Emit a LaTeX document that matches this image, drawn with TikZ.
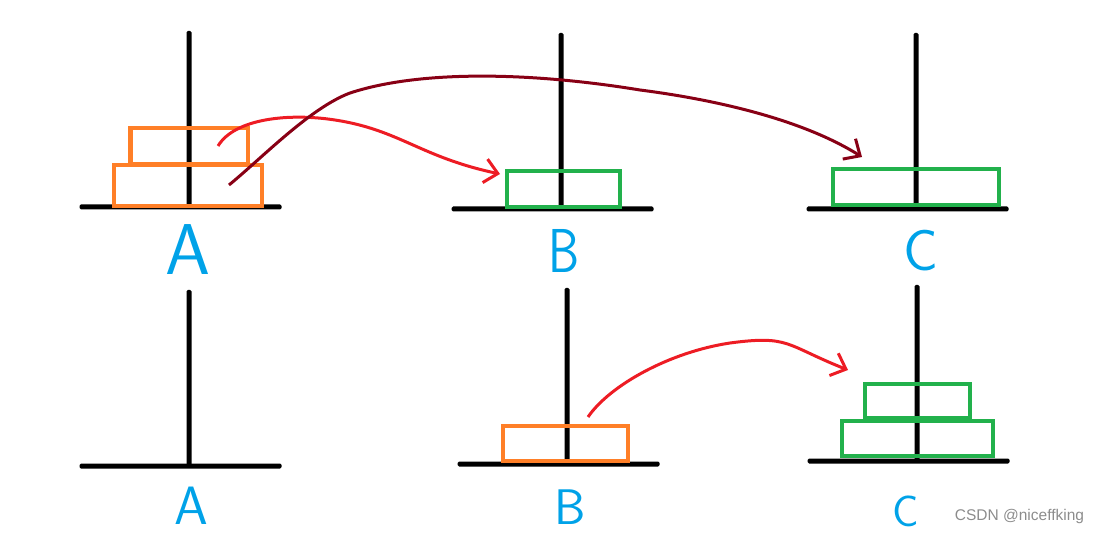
\documentclass[tikz,border=0pt]{standalone}
\usepackage{fontspec}
\setmainfont{Liberation Sans}
\usetikzlibrary{arrows.meta,positioning}
\definecolor{hanoiorange}{RGB}{255,127,39}
\definecolor{hanoigreen}{RGB}{34,177,76}
\definecolor{hanoired}{RGB}{237,28,36}
\definecolor{hanoidark}{RGB}{136,0,21}
\definecolor{hanoiblue}{RGB}{0,162,232}
\tikzstyle{base} = [rectangle, rounded corners=1.5pt, minimum width=202pt, minimum height=5pt, inner sep=0pt, fill=black]
\tikzstyle{peg} = [rectangle, rounded corners=1.5pt, minimum width=5pt, minimum height=176pt, inner sep=0pt, fill=black, anchor=south]
\tikzstyle{disc} = [rectangle, inner sep=0pt, line width=4.5pt]
\tikzstyle{oranged} = [disc, draw=hanoiorange]
\tikzstyle{greend} = [disc, draw=hanoigreen]
\tikzstyle{moved} = [line width=3pt, -{Straight Barb[length=13pt,width=24pt,line width=3pt]}]
\tikzstyle{letter} = [text=hanoiblue, inner sep=0pt]
\begin{document}
\begin{tikzpicture}[x=1pt, y=-1pt]
\useasboundingbox (0,0) rectangle (1099,534);
% top row
\node (baseA) [base] at (180.5,207) {};
\node (pegA) [peg] at (189,207) {};
\node (baseB) [base] at (552.5,209) {};
\node (pegB) [peg] at (561,209) {};
\node (baseC) [base] at (907.5,209) {};
\node (pegC) [peg] at (916,209) {};
\node (discAlarge) [oranged, minimum width=148pt, minimum height=41pt] at (188,185.5) {};
\node (discAsmall) [oranged, minimum width=117.5pt, minimum height=36pt] at (189.2,146) {};
\node (discB) [greend, minimum width=113pt, minimum height=36pt] at (563.5,189) {};
\node (discC) [greend, minimum width=166pt, minimum height=36pt] at (916,187) {};
\node (labelA) [letter, font=\sffamily\fontsize{72}{72}\selectfont] at (188,250) {A};
\node (labelB) [letter, font=\sffamily\fontsize{62}{62}\selectfont, xscale=0.8] at (564,251) {B};
\node (labelC) [letter, font=\sffamily\fontsize{58}{58}\selectfont] at (921,251) {C};
% bottom row
\node (baseAb) [base] at (180.5,466) {};
\node (pegAb) [peg] at (189,466) {};
\node (baseBb) [base] at (558.5,464) {};
\node (pegBb) [peg] at (567,464) {};
\node (baseCb) [base] at (908.5,461) {};
\node (pegCb) [peg] at (917,461) {};
\node (discBb) [oranged, minimum width=125pt, minimum height=35pt] at (565.5,443.5) {};
\node (discClarge) [greend, minimum width=151pt, minimum height=35pt] at (917.5,438.5) {};
\node (discCsmall) [greend, minimum width=105pt, minimum height=34pt] at (917.5,401) {};
\node (labelAb) [letter, font=\sffamily\fontsize{54}{54}\selectfont] at (191,506) {A};
\node (labelBb) [letter, font=\sffamily\fontsize{50}{50}\selectfont] at (570,507) {B};
\node (labelCb) [letter, font=\sffamily\fontsize{44}{44}\selectfont] at (906,511) {C};
% moves
\coordinate (startsmall) at (218,146);
\coordinate (endsmall) at (500,174);
\coordinate (startlarge) at (229,185);
\coordinate (endlarge) at (862,157);
\coordinate (startback) at (588,417);
\coordinate (endback) at (848,370);
\draw[moved, hanoired] (startsmall) .. controls (235,118) and (290,113) .. (335,120) .. controls (400,130) and (420,157) .. (endsmall);
\draw[moved, hanoidark] (startlarge) .. controls (262,158) and (310,108) .. (350,93) .. controls (420,70) and (530,72) .. (640,90) .. controls (710,99) and (800,118) .. (endlarge);
\draw[moved, hanoired] (startback) .. controls (610,385) and (670,352) .. (730,343) .. controls (790,335) and (785,345) .. (endback);
\node (mark) [text=black!45, font=\fontsize{15.5}{15.5}\selectfont] at (1019.5,516) {CSDN @niceffking};
\end{tikzpicture}
\end{document}
